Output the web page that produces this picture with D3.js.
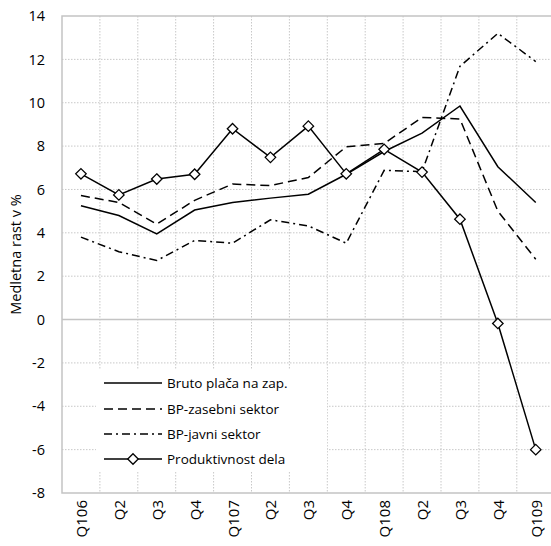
<!DOCTYPE html>
<html>
<head>
<meta charset="utf-8">
<script src="https://cdn.jsdelivr.net/npm/d3@7"></script>
<style>
  html, body { margin: 0; padding: 0; background: #fff; }
  svg { display: block; }
  text { font-family: "Open Sans", "Noto Sans", sans-serif; fill: #000; }
</style>
</head>
<body>
<svg id="chart" width="551" height="546"></svg>
<script>
const categories = ["Q106","Q2","Q3","Q4","Q107","Q2 ","Q3 ","Q4 ","Q108","Q2  ","Q3  ","Q4  ","Q109"];
const bruto = [5.25, 4.8, 3.95, 5.05, 5.4, 5.6, 5.78, 6.7, 7.75, 8.6, 9.85, 7.05, 5.4];
const zasebni = [5.72, 5.4, 4.4, 5.5, 6.25, 6.18, 6.55, 7.97, 8.12, 9.32, 9.25, 5.0, 2.78];
const javni = [3.8, 3.13, 2.72, 3.65, 3.52, 4.6, 4.32, 3.52, 6.88, 6.82, 11.68, 13.2, 11.9];
const produktivnost = [6.72, 5.75, 6.48, 6.7, 8.8, 7.48, 8.92, 6.72, 7.85, 6.8, 4.63, -0.18, -6.0];
const yTicks = [14, 12, 10, 8, 6, 4, 2, 0, -2, -4, -6, -8];
const seriesNames = ["Bruto plača na zap.", "BP-zasebni sektor", "BP-javni sektor", "Produktivnost dela"];

const svg = d3.select("#chart");
const L = 62, T = 16, B = 493, R = 62 + 13 * 37.9;

const x = d3.scaleBand().domain(categories).range([L, R]).paddingInner(0).paddingOuter(0);
const cx = d => x(d) + x.bandwidth() / 2;
const y = d3.scaleLinear().domain([-8, 14]).range([B, T]);

// gridlines
const grid = svg.append("g");
grid.selectAll("line.h").data(yTicks.filter(v => v !== 0 && v !== 14 && v !== -8)).join("line")
  .attr("x1", L).attr("x2", R).attr("y1", d => y(d)).attr("y2", d => y(d))
  .attr("stroke", "#c8c8c8").attr("stroke-width", 1).attr("stroke-dasharray", "1.5,1.5");
grid.selectAll("line.v").data(categories.slice(1)).join("line")
  .attr("x1", d => x(d)).attr("x2", d => x(d)).attr("y1", T).attr("y2", B)
  .attr("stroke", "#c8c8c8").attr("stroke-width", 1).attr("stroke-dasharray", "1.5,1.5");

// border
svg.append("path")
  .attr("d", `M${R},${T}H${L}V${B}H${R}`)
  .attr("fill", "none").attr("stroke", "#c4c4c4").attr("stroke-width", 1.5);
// zero line
svg.append("line").attr("x1", L).attr("x2", R).attr("y1", y(0)).attr("y2", y(0))
  .attr("stroke", "#c4c4c4").attr("stroke-width", 1.5);

// y axis labels
const yAxis = d3.axisLeft(y).tickValues(yTicks).tickSize(0).tickPadding(0).tickFormat(d3.format("d"));
const ya = svg.append("g").attr("transform", `translate(45,0)`).call(yAxis);
ya.select(".domain").remove();
ya.selectAll("text").attr("font-size", 14.5).attr("font-family", "'Open Sans', sans-serif").attr("fill", "#000")
  .text(d => d < 0 ? "-" + Math.abs(d) : d);

// y title
svg.append("text").attr("transform", `translate(21,${(T + B) / 2}) rotate(-90)`)
  .attr("text-anchor", "middle").attr("font-size", 14.5).text("Medletna rast v %");

// x labels
const xAxis = d3.axisBottom(x).tickSize(0).tickPadding(0);
const xa = svg.append("g").attr("transform", `translate(0,${B})`).call(xAxis);
xa.select(".domain").remove();
xa.selectAll("text")
  .attr("font-size", 15).attr("font-family", "'Open Sans', sans-serif").attr("fill", "#000")
  .attr("text-anchor", "end").attr("dy", null)
  .attr("transform", "translate(6,7) rotate(-90)")
  .attr("x", 0).attr("y", 0).text(d => d.trim());

const line = d3.line().x((d, i) => cx(categories[i])).y(d => y(d));
const styles = [
  { data: bruto, dash: null },
  { data: zasebni, dash: "9,5" },
  { data: javni, dash: "8,4,2,4" },
  { data: produktivnost, dash: null }
];
styles.forEach(s => {
  svg.append("path").datum(s.data).attr("d", line)
    .attr("fill", "none").attr("stroke", "#000").attr("stroke-width", 1.5)
    .attr("stroke-dasharray", s.dash);
});
const diamond = d3.symbol().type(d3.symbolDiamond2).size(70);
svg.append("g").selectAll("path").data(produktivnost).join("path")
  .attr("d", diamond)
  .attr("transform", (d, i) => `translate(${cx(categories[i])},${y(d)})`)
  .attr("fill", "#fff").attr("stroke", "#000").attr("stroke-width", 1.3);

// legend
const lg = svg.append("g");
lg.append("rect").attr("x", 96).attr("y", 370).attr("width", 231).attr("height", 102).attr("fill", "#fff");
const rowsY = [383, 409, 434, 459];
seriesNames.forEach((n, i) => {
  lg.append("line").attr("x1", 104).attr("x2", 162).attr("y1", rowsY[i]).attr("y2", rowsY[i])
    .attr("stroke", "#000").attr("stroke-width", 1.5).attr("stroke-dasharray", styles[i].dash);
  lg.append("text").attr("x", 167).attr("y", rowsY[i]).attr("dy", "0.35em")
    .attr("font-size", 13.5).text(n);
});
lg.append("path").attr("d", diamond).attr("transform", `translate(133,${rowsY[3]})`)
  .attr("fill", "#fff").attr("stroke", "#000").attr("stroke-width", 1.3);
</script>
</body>
</html>
